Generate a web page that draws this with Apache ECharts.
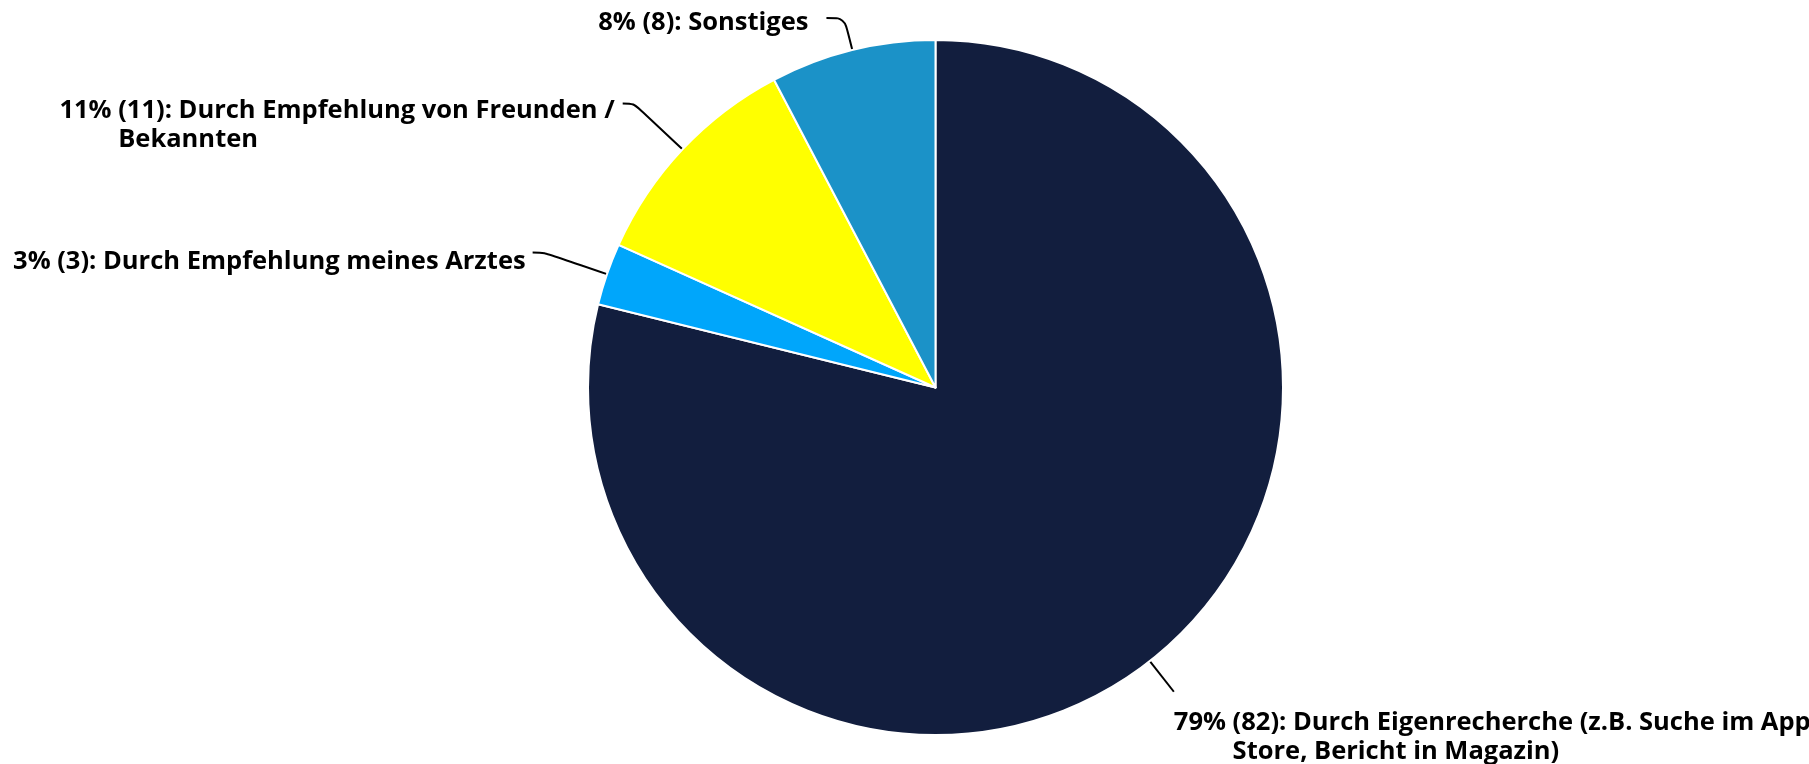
<!DOCTYPE html>
<html>
<head>
<meta charset="utf-8">
<script src="https://cdn.jsdelivr.net/npm/echarts@6/dist/echarts.min.js"></script>
<style>
  html, body { margin: 0; padding: 0; background: #ffffff; }
  #chart { width: 1809px; height: 764px; }
</style>
</head>
<body>
<div id="chart"></div>
<script>
// Answers to "Wie sind Sie auf die App aufmerksam geworden?" (n = 104)
const categories = [
  'Durch Eigenrecherche (z.B. Suche im App\nStore, Bericht in Magazin)',
  'Durch Empfehlung meines Arztes',
  'Durch Empfehlung von Freunden /\nBekannten',
  'Sonstiges'
];
const counts = [82, 3, 11, 8];
const sliceColors = ['#121e3e', '#00a6fb', '#ffff00', '#1b92c8'];

// Leader line geometry per slice: radial length, horizontal length, gap to text, text offset
const leaders = [
  { length: 39, length2: 0,  gap: 0,  padTop: 90 },
  { length: 66, length2: 12, gap: 7,  padTop: 19 },
  { length: 67, length2: 11, gap: 8,  padTop: 43 },
  { length: 33, length2: 18, gap: 18, padTop: 10 }
];

const total = counts.reduce((a, b) => a + b, 0);
const FONT = '"Open Sans", "DejaVu Sans", sans-serif';
const baseText = {
  fontFamily: FONT, fontSize: 25.5, lineHeight: 29, color: '#000000',
  fontWeight: 700, align: 'left'
};

const data = categories.map((name, i) => ({
  name: name,
  value: counts[i],
  itemStyle: { color: sliceColors[i] },
  label: {
    distanceToLabelLine: leaders[i].gap,
    padding: [leaders[i].padTop, 0, 0, 0]
  },
  labelLine: { length: leaders[i].length, length2: leaders[i].length2 }
}));

const chart = echarts.init(document.getElementById('chart'), null, { renderer: 'canvas' });
chart.setOption({
  backgroundColor: '#ffffff',
  animation: false,
  series: [{
    type: 'pie',
    center: [935.5, 387.5],
    radius: 347.5,
    startAngle: 90,
    clockwise: true,
    avoidLabelOverlap: false,
    itemStyle: { borderColor: '#ffffff', borderWidth: 2 },
    label: {
      show: true,
      position: 'outside',
      fontFamily: FONT,
      fontSize: 25.5,
      fontWeight: 700,
      lineHeight: 29,
      color: '#000000',
      formatter: function (p) {
        const pct = Math.round(p.value / total * 100) + '%';
        return p.name.split('\n').map(function (line, k) {
          return k === 0
            ? '{p|' + pct + ' }{t|(' + p.value + '): ' + line + '}'
            : '{pi|' + pct + ' }{t|' + line + '}';
        }).join('\n');
      },
      rich: {
        p: Object.assign({}, baseText),
        pi: Object.assign({}, baseText, { color: 'rgba(0,0,0,0)' }),
        t: Object.assign({}, baseText)
      }
    },
    labelLine: {
      show: true,
      smooth: true,
      lineStyle: { color: '#000000', width: 2 }
    },
    emphasis: { disabled: true },
    data: data
  }]
});
</script>
</body>
</html>
